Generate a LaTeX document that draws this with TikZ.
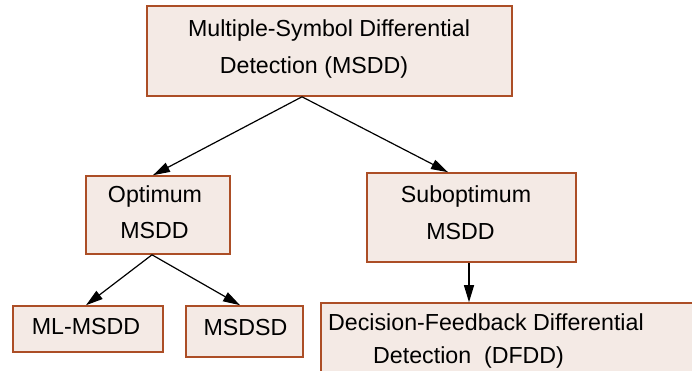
\documentclass[tikz,border=0pt]{standalone}
\usepackage{fontspec}
\setmainfont{Liberation Sans}
\usetikzlibrary{arrows.meta}
\definecolor{boxfill}{RGB}{244,234,229}
\definecolor{boxdraw}{RGB}{172,78,38}
\begin{document}
\begin{tikzpicture}[x=1pt,y=-1pt,
  box/.style={draw=boxdraw,fill=boxfill,line width=1.6pt,rectangle,inner sep=0pt},
  txt/.style={inner sep=0pt,font=\fontsize{23.2}{28}\selectfont,text=black},
  conn/.style={-{Triangle[length=17pt,width=10pt]},line width=1.2pt,black}]
\useasboundingbox (0,0) rectangle (692,371);
\fill[white] (0,0) rectangle (692,371);
% boxes
\node[box,minimum width=365pt,minimum height=90pt] (top) at (329.5,51) {};
\node[box,minimum width=144pt,minimum height=78pt] (opt) at (158,215) {};
\node[box,minimum width=209pt,minimum height=89pt] (sub) at (471.5,217.5) {};
\node[box,minimum width=150pt,minimum height=46pt] (ml) at (88,329) {};
\node[box,minimum width=117pt,minimum height=51pt] (msdsd) at (244.5,331.5) {};
\node[box,minimum width=379pt,minimum height=77pt] (dfdd) at (510.5,341.5) {};
% texts
\node[txt] (t1a) at (329,31) {Multiple-Symbol Differential};
\node[txt] (t1b) at (314,67) {Detection (MSDD)};
\node[txt] (t2a) at (155,197) {Optimum};
\node[txt] (t2b) at (154.5,231) {MSDD};
\node[txt] (t3a) at (466,197) {Suboptimum};
\node[txt] (t3b) at (460.5,232) {MSDD};
\node[txt] (t4) at (86,327) {ML-MSDD};
\node[txt] (t5) at (245.5,328) {MSDSD};
\node[txt,anchor=west] (t6a) at (328,322) {Decision-Feedback Differential};
\node[txt,anchor=west] (t6b) at (373,357) {Detection\ \ (DFDD)};
% connectors
\draw[conn] ([xshift=-27.5pt]top.south) -- ([xshift=-5pt]opt.north);
\draw[conn] ([xshift=-27.5pt]top.south) -- ([xshift=-23.5pt]sub.north);
\draw[conn] ([xshift=-6pt]opt.south) -- ([xshift=-2pt]ml.north);
\draw[conn] ([xshift=-6pt]opt.south) -- ([xshift=-4.5pt]msdsd.north);
\draw[conn] ([xshift=-2.5pt]sub.south) -- ([xshift=-41.5pt]dfdd.north);
\end{tikzpicture}
\end{document}
